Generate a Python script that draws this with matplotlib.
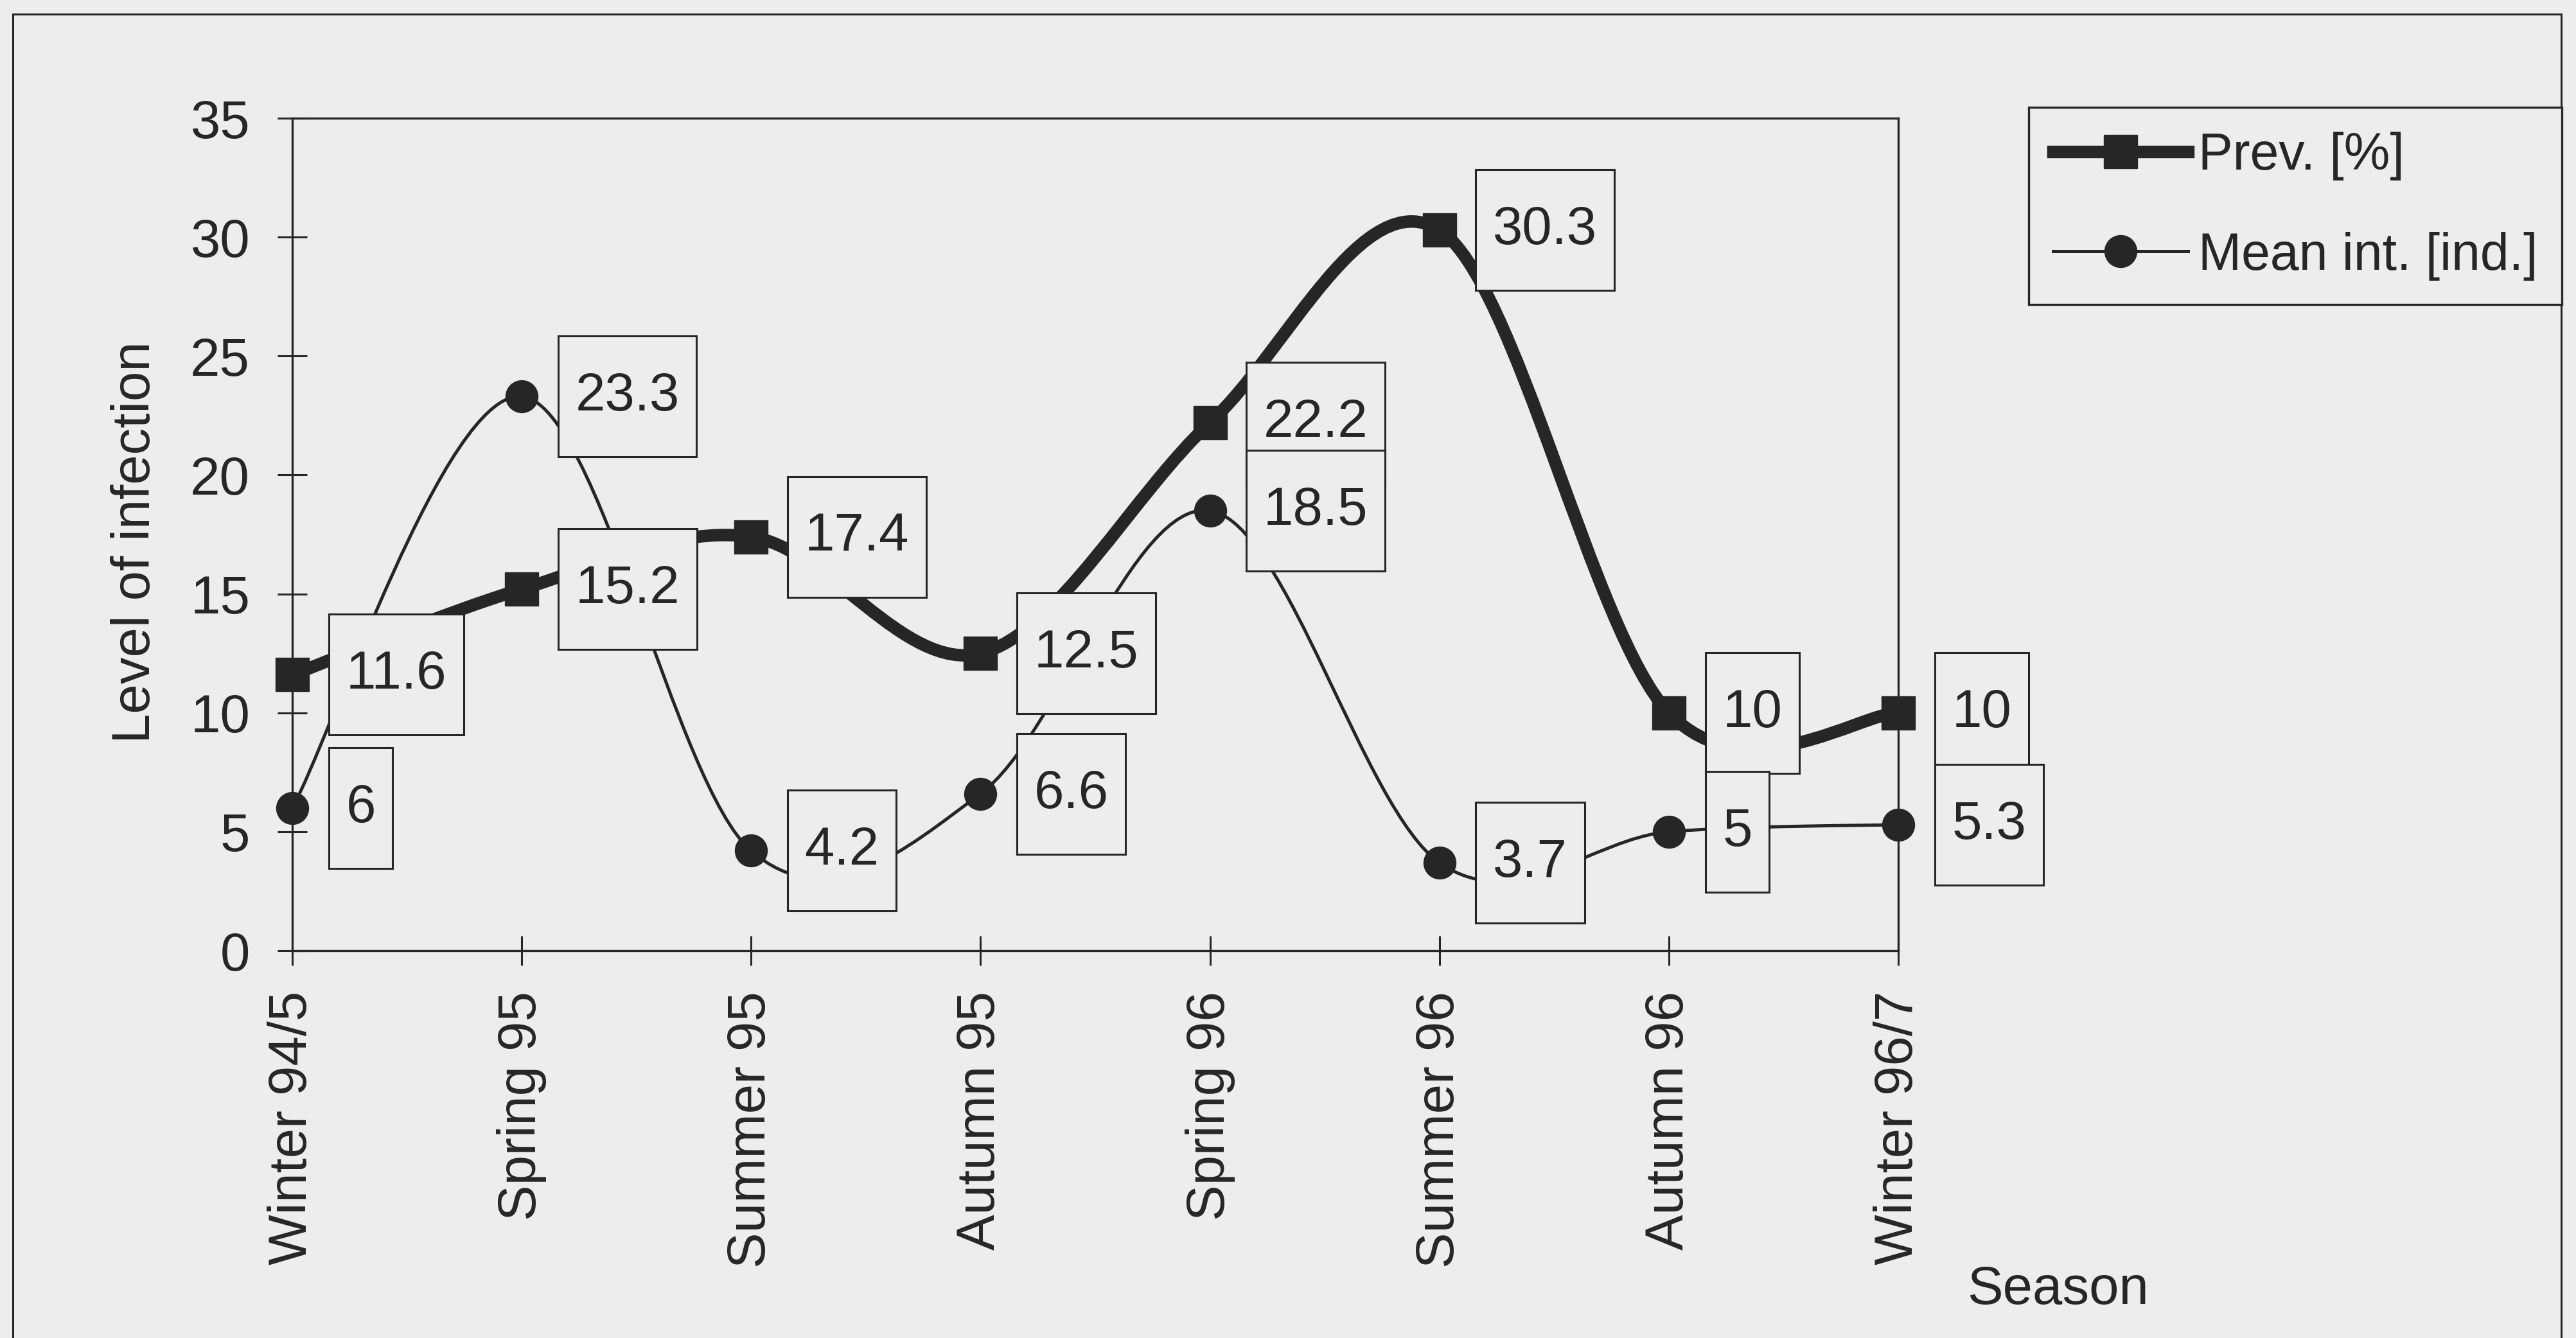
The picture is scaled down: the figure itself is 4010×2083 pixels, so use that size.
import matplotlib
matplotlib.use("Agg")
import matplotlib.pyplot as plt
from matplotlib.lines import Line2D
from matplotlib.patches import PathPatch, Rectangle
from matplotlib.path import Path

seasons = [
    "Winter 94/5", "Spring 95", "Summer 95", "Autumn 95",
    "Spring 96", "Summer 96", "Autumn 96", "Winter 96/7",
]
prevalence = [11.6, 15.2, 17.4, 12.5, 22.2, 30.3, 10, 10]
mean_intensity = [6, 23.3, 4.2, 6.6, 18.5, 3.7, 5, 5.3]
y_ticks = [0, 5, 10, 15, 20, 25, 30, 35]

BG = "#ededed"
INK = "#262626"
FS = 60

plt.rcParams["font.family"] = ["Liberation Sans", "DejaVu Sans"]


def smooth_path(xs, ys):
    # Catmull-Rom style Bezier segments, like a spreadsheet "smoothed line"
    pts = list(zip(xs, ys))
    n = len(pts)
    verts = [pts[0]]
    codes = [Path.MOVETO]
    for i in range(n - 1):
        p0 = pts[max(i - 1, 0)]
        p1 = pts[i]
        p2 = pts[i + 1]
        p3 = pts[min(i + 2, n - 1)]
        c1 = (p1[0] + (p2[0] - p0[0]) / 6, p1[1] + (p2[1] - p0[1]) / 6)
        c2 = (p2[0] - (p3[0] - p1[0]) / 6, p2[1] - (p3[1] - p1[1]) / 6)
        verts += [c1, c2, p2]
        codes += [Path.CURVE4] * 3
    return Path(verts, codes)


def label_box(x0, y0, width, height, mutation_size):
    # plain rectangle, more padding above/below than left/right
    px = 0.32 * mutation_size
    py = 0.66 * mutation_size
    return Path([(x0 - px, y0 - py), (x0 + width + px, y0 - py),
                 (x0 + width + px, y0 + height + py),
                 (x0 - px, y0 + height + py), (x0 - px, y0 - py)],
                closed=True)


fig = plt.figure(figsize=(40.10, 20.83), dpi=100, facecolor=BG)
ax = fig.add_axes([455 / 4010, 1 - 1480 / 2083, 2500 / 4010, 1296 / 2083])
ax.set_facecolor(BG)

x = list(range(len(seasons)))

series = [
    (prevalence, 14, "s", 38, "Prev. [%]", 5),
    (mean_intensity, 3.6, "o", 36, "Mean int. [ind.]", 6),
]
handles = []
for values, lw, marker, ms, name, z in series:
    ax.add_patch(PathPatch(smooth_path(x, values), fill=False, edgecolor=INK,
                           lw=lw, joinstyle="round", capstyle="butt",
                           zorder=3, clip_on=False))
    ax.plot(x, values, linestyle="none", marker=marker, ms=ms, color=INK,
            mec=INK, zorder=4, clip_on=False)
    for xi, v in zip(x, values):
        ax.annotate(f"{v:g}", (xi, v), xytext=(60, 0),
                    textcoords="offset points", ha="left", va="center",
                    fontsize=FS, color=INK, zorder=z, annotation_clip=False,
                    bbox=dict(boxstyle=label_box, facecolor=BG,
                              edgecolor=INK, lw=2.2))
    handles.append(Line2D([], [], color=INK, lw=lw, marker=marker, ms=ms,
                          mec=INK, label=name))

ax.set_xlim(0, len(seasons) - 1)
ax.set_ylim(0, 35)
ax.set_yticks(y_ticks)
ax.set_xticks(x)
ax.set_xticklabels(seasons, rotation=90)
ax.tick_params(axis="both", direction="inout", length=33, width=2.2,
               colors=INK, labelsize=FS)
ax.tick_params(axis="x", pad=29)
ax.tick_params(axis="y", pad=31)
for side in ["left", "right", "top", "bottom"]:
    ax.spines[side].set_linewidth(2.4)
    ax.spines[side].set_color(INK)

fig.text(211 / 4010, 1 - 844 / 2083, "Level of infection", rotation=90,
         ha="center", va="center", fontsize=FS, color=INK)
fig.text(3062 / 4010, 1 - 2030 / 2083, "Season", ha="left", va="baseline",
         fontsize=FS, color=INK)

leg = fig.legend(handles=handles, loc="upper right",
                 bbox_to_anchor=(3988 / 4010, 1 - 167 / 2083),
                 bbox_transform=fig.transFigure, borderaxespad=0,
                 fontsize=58, handlelength=2.6, handletextpad=0.2,
                 borderpad=0.47, labelspacing=0.99, fancybox=False,
                 framealpha=1, facecolor=BG, edgecolor=INK)
leg.get_frame().set_linewidth(2.4)
for t in leg.get_texts():
    t.set_color(INK)

# outer chart border (runs off the bottom edge)
fig.add_artist(Rectangle((20 / 4010, -0.05), 3967 / 4010, 1.05 - 22 / 2083,
                         transform=fig.transFigure, fill=False,
                         edgecolor=INK, lw=2.2))

fig.savefig("out.png", dpi=100, facecolor=BG)
